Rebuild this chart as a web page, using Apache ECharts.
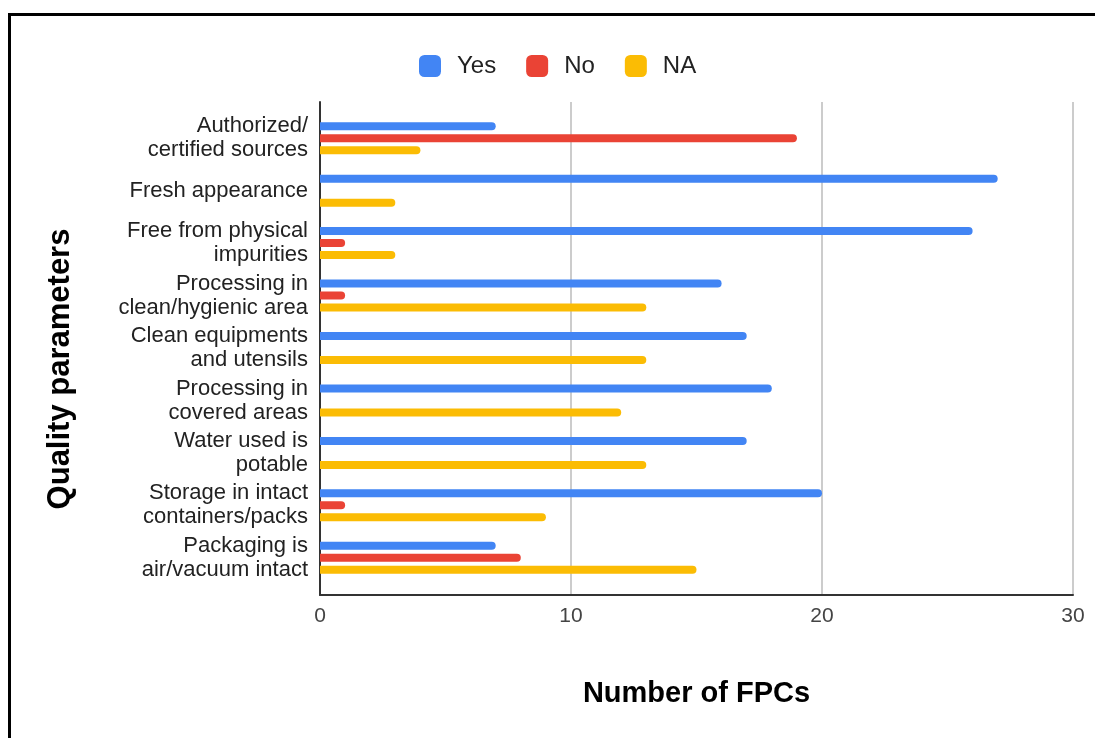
<!DOCTYPE html>
<html>
<head>
<meta charset="utf-8">
<script src="https://cdn.jsdelivr.net/npm/echarts@6/dist/echarts.min.js"></script>
<style>
  html, body { margin: 0; padding: 0; background: #fff; }
  #frame {
    position: absolute; left: 8px; top: 13px; width: 1200px; height: 900px;
    border: 3px solid #000; box-sizing: border-box;
  }
  #chart { position: absolute; left: 0; top: 0; width: 1095px; height: 738px; }
</style>
</head>
<body>
<div id="frame"></div>
<div id="chart"></div>
<script>
// Quality parameters checked at each food processing centre
const categories = [
  'Authorized/\ncertified sources',
  'Fresh appearance',
  'Free from physical\nimpurities',
  'Processing in\nclean/hygienic area',
  'Clean equipments\nand utensils',
  'Processing in\ncovered areas',
  'Water used is\npotable',
  'Storage in intact\ncontainers/packs',
  'Packaging is\nair/vacuum intact'
];
const seriesNames = ['Yes', 'No', 'NA'];
const yesValues = [7, 27, 26, 16, 17, 18, 17, 20, 7];
const noValues  = [19, 0, 1, 1, 0, 0, 0, 1, 8];
const naValues  = [4, 3, 3, 13, 13, 12, 13, 9, 15];
const xTicks = { min: 0, max: 30, interval: 10 };

const colors = ['#4285F4', '#EA4335', '#FBBC04'];
const FONT = '"Liberation Sans", Arial, sans-serif';

const chart = echarts.init(document.getElementById('chart'), null, { renderer: 'canvas' });

function barSeries(name, values, color) {
  return {
    name: name,
    type: 'bar',
    xAxisIndex: 1,
    yAxisIndex: 1,
    data: values,
    barWidth: 8,
    barGap: '50%',
    itemStyle: { color: color, borderRadius: [0, 4, 4, 0] },
    emphasis: { disabled: true }
  };
}

chart.setOption({
  animation: false,
  color: colors,
  textStyle: { fontFamily: FONT },
  legend: {
    data: seriesNames,
    top: 54,
    left: 419,
    padding: 0,
    itemWidth: 22,
    itemHeight: 22,
    itemGap: 30,
    icon: 'roundRect',
    textStyle: { fontSize: 24, color: '#222', fontFamily: FONT, padding: [0, 0, 0, 11] }
  },
  grid: [
    // frame grid: gridlines, axis lines, tick labels
    { left: 320, right: 22, top: 102, bottom: 143 },
    // bar grid: category bands
    { left: 320, right: 22, top: 112, bottom: 154 }
  ],
  xAxis: [
    {
      gridIndex: 0,
      type: 'value',
      min: xTicks.min, max: xTicks.max, interval: xTicks.interval,
      name: 'Number of FPCs',
      nameLocation: 'middle',
      nameGap: 84,
      nameTextStyle: { fontSize: 29, fontWeight: 'bold', color: '#000', fontFamily: FONT },
      axisLine: { show: true, lineStyle: { color: '#333', width: 2 } },
      axisTick: { show: false },
      axisLabel: { fontSize: 21, color: '#444', margin: 11, fontFamily: FONT },
      splitLine: { show: true, lineStyle: { color: '#ccc', width: 2 } }
    },
    {
      gridIndex: 1,
      type: 'value',
      min: xTicks.min, max: xTicks.max,
      show: false,
      splitLine: { show: false }
    }
  ],
  yAxis: [
    {
      gridIndex: 0,
      type: 'value',
      min: 0, max: 1,
      axisLine: { show: true, lineStyle: { color: '#333', width: 2 } },
      axisTick: { show: false },
      axisLabel: { show: false },
      splitLine: { show: false }
    },
    {
      gridIndex: 1,
      type: 'category',
      data: categories,
      inverse: true,
      axisLine: { show: false },
      axisTick: { show: false },
      axisLabel: {
        fontSize: 22, color: '#222', margin: 12, lineHeight: 24,
        align: 'right', fontFamily: FONT
      },
      splitLine: { show: false }
    }
  ],
  graphic: [
    {
      type: 'text',
      x: 60, y: 369,
      rotation: Math.PI / 2,
      style: {
        text: 'Quality parameters',
        fontSize: 31, fontWeight: 'bold', fontFamily: FONT,
        fill: '#000', align: 'center', verticalAlign: 'middle'
      }
    }
  ],
  series: [
    barSeries(seriesNames[0], yesValues, colors[0]),
    barSeries(seriesNames[1], noValues, colors[1]),
    barSeries(seriesNames[2], naValues, colors[2])
  ]
});
</script>
</body>
</html>
